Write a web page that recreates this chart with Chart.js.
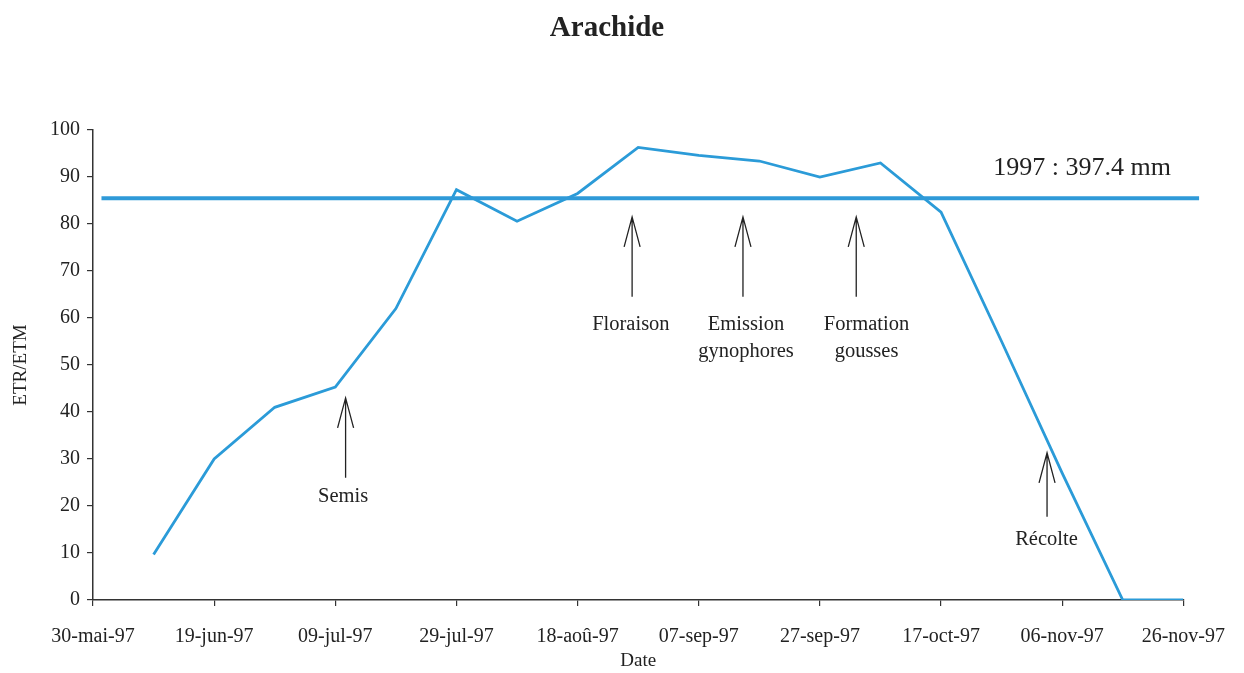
<!DOCTYPE html>
<html>
<head>
<meta charset="utf-8">
<script src="https://cdn.jsdelivr.net/npm/chart.js@4.4.1/dist/chart.umd.min.js"></script>
<style>
  html, body { margin: 0; padding: 0; background: #ffffff; }
  #wrap { width: 1244px; height: 673px; position: relative; }
</style>
</head>
<body>
<div id="wrap"><canvas id="c" width="1244" height="673"></canvas></div>
<script>
// ---- Data ----
const chartTitle = 'Arachide';
const startDate = '1997-05-30';
const dates = ['1997-06-09','1997-06-19','1997-06-29','1997-07-09','1997-07-19','1997-07-29',
               '1997-08-08','1997-08-18','1997-08-28','1997-09-07','1997-09-17','1997-09-27',
               '1997-10-07','1997-10-17','1997-10-27','1997-11-06','1997-11-16','1997-11-26'];
const etrEtm = [9.7, 30, 41, 45.3, 62, 87.3, 80.6, 86.5, 96.3, 94.6, 93.4, 90, 93, 82.5, 55, 27, 0, 0];
const tickLabels = ['30-mai-97','19-jun-97','09-jul-97','29-jul-97','18-aoû-97','07-sep-97',
                    '27-sep-97','17-oct-97','06-nov-97','26-nov-97'];
const refValue = 85.5;
const refSpanDays = [1.4, 182.6];
const refLabel = '1997 : 397.4 mm';
const stageNames = [['Semis'], ['Floraison'], ['Emission', 'gynophores'], ['Formation', 'gousses'], ['Récolte']];
const stageDays = [41.7, 89, 107.3, 126, 157.5];
const stageArrowTip = [43, 81.5, 81.5, 81.5, 31.3];
const stageArrowTail = [26, 64.5, 64.5, 64.5, 17.7];
const stageLabelDays = [41.3, 88.8, 107.8, 127.7, 157.4];
const stageLabelValues = [21.9, 58.6, 58.6, 58.6, 12.8];

function dayOffset(d) {
  return (Date.parse(d + 'T00:00:00Z') - Date.parse(startDate + 'T00:00:00Z')) / 86400000;
}
const seriesPoints = dates.map((d, i) => ({ x: dayOffset(d), y: etrEtm[i] }));
const refPoints = refSpanDays.map(x => ({ x: x, y: refValue }));

const SERIF = '"Liberation Serif", "DejaVu Serif", serif';

const annotPlugin = {
  id: 'annot',
  afterDatasetsDraw(chart) {
    const ctx = chart.ctx;
    const xs = chart.scales.x, ys = chart.scales.y;
    ctx.save();
    // title
    ctx.fillStyle = '#222';
    ctx.textAlign = 'center';
    ctx.textBaseline = 'middle';
    ctx.font = 'bold 29px ' + SERIF;
    ctx.fillText(chartTitle, 607, 29);
    // stage arrows
    ctx.strokeStyle = '#222';
    ctx.lineWidth = 1.3;
    ctx.font = '20.5px ' + SERIF;
    stageNames.forEach((lines, i) => {
      const x = xs.getPixelForValue(stageDays[i]);
      const yt = ys.getPixelForValue(stageArrowTip[i]);
      const yb = ys.getPixelForValue(stageArrowTail[i]);
      ctx.beginPath();
      ctx.moveTo(x, yb); ctx.lineTo(x, yt);
      ctx.moveTo(x - 8, yt + 30); ctx.lineTo(x, yt); ctx.lineTo(x + 8, yt + 30);
      ctx.stroke();
      const lx = xs.getPixelForValue(stageLabelDays[i]);
      const ly = ys.getPixelForValue(stageLabelValues[i]);
      lines.forEach((t, j) => ctx.fillText(t, lx, ly + j * 27));
    });
    ctx.font = '26px ' + SERIF;
    ctx.fillText(refLabel, xs.getPixelForValue(163.3), ys.getPixelForValue(91.9));
    ctx.restore();
  }
};

new Chart(document.getElementById('c'), {
  type: 'line',
  data: {
    datasets: [
      { data: refPoints, borderColor: '#2f9ad8', borderWidth: 4, pointRadius: 0, clip: false, tension: 0 },
      { data: seriesPoints, borderColor: '#2b9bd8', borderWidth: 2.8, pointRadius: 0, tension: 0 }
    ]
  },
  options: {
    responsive: false,
    animation: false,
    devicePixelRatio: 1,
    layout: { padding: { top: 130, left: 0, right: 59, bottom: 0 } },
    plugins: {
      legend: { display: false },
      tooltip: { enabled: false },
      title: { display: false }
    },
    scales: {
      x: {
        type: 'linear',
        min: 0, max: 180,
        afterBuildTicks(scale) {
          scale.ticks = tickLabels.map((_, i) => ({ value: i * 20 }));
        },
        afterFit(scale) { scale.height = 73; },
        ticks: {
          callback: (v, i) => tickLabels[i],
          color: '#222',
          font: { family: SERIF, size: 20 },
          maxRotation: 0, autoSkip: false, padding: 19
        },
        grid: { drawOnChartArea: false, drawTicks: true, tickLength: 6, color: '#333', lineWidth: 1.2 },
        border: { display: true, color: '#333', width: 1.5 },
        title: {
          display: true, text: 'Date', color: '#222',
          font: { family: SERIF, size: 19 }, padding: { top: 0, bottom: 1 }
        }
      },
      y: {
        min: 0, max: 100,
        afterFit(scale) { scale.width = 93; },
        ticks: { stepSize: 10, color: '#222', font: { family: SERIF, size: 20 }, padding: 7 },
        grid: { drawOnChartArea: false, drawTicks: true, tickLength: 6, color: '#333', lineWidth: 1.2 },
        border: { display: true, color: '#333', width: 1.5 },
        title: {
          display: true, text: 'ETR/ETM', color: '#222',
          font: { family: SERIF, size: 19 }, padding: { top: 10, bottom: 0 }
        }
      }
    }
  },
  plugins: [annotPlugin]
});
</script>
</body>
</html>
